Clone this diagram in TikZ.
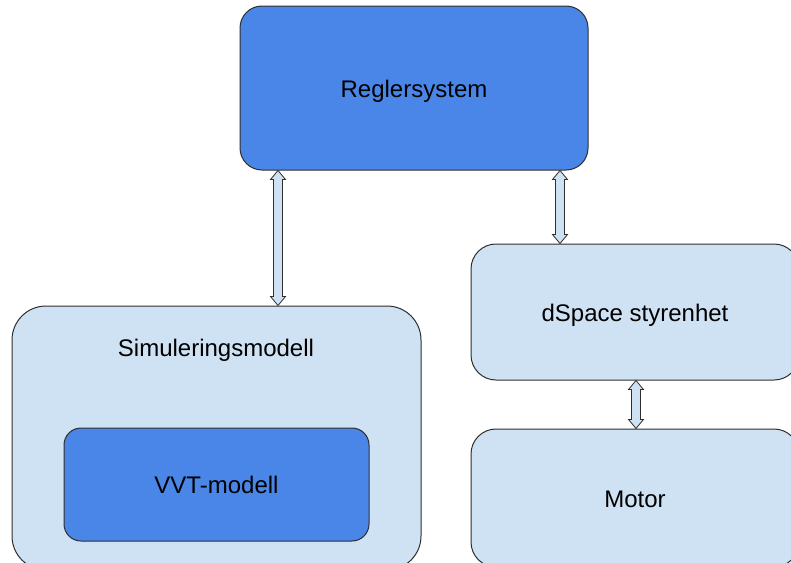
\documentclass[tikz,border=0pt]{standalone}
\usepackage{fontspec}
\setmainfont{Liberation Sans}
\usetikzlibrary{calc}
\definecolor{darkbox}{HTML}{4A86E8}
\definecolor{lightbox}{HTML}{CFE2F3}
\definecolor{edge}{HTML}{2E2E2E}
\tikzset{
  boxbase/.style={draw=edge, line width=1pt, inner sep=0pt, font=\fontsize{24}{28}\selectfont,
    text height=20pt, text depth=2pt},
  darkb/.style={boxbase, fill=darkbox},
  lightb/.style={boxbase, fill=lightbox},
  lbl/.style={inner sep=0pt, font=\fontsize{24}{28}\selectfont, text height=20pt, text depth=2pt},
  dblarrow/.style={draw=edge, line width=0.8pt, fill=lightbox, line join=miter,
    to path={let \p1=(\tikztostart), \p2=(\tikztotarget) in
      (\x1,\y1) -- (\x1+7.5pt,\y1-9pt) -- (\x1+4.5pt,\y1-9pt) -- (\x1+4.5pt,\y2+9pt)
      -- (\x1+7.5pt,\y2+9pt) -- (\x1,\y2) -- (\x1-7.5pt,\y2+9pt) -- (\x1-4.5pt,\y2+9pt)
      -- (\x1-4.5pt,\y1-9pt) -- (\x1-7.5pt,\y1-9pt) -- cycle}}
}
\begin{document}
\begin{tikzpicture}[x=1pt, y=-1pt]
\useasboundingbox[fill=white] (0,0) rectangle (791,562);
\node[darkb, rounded corners=22pt, minimum width=348pt, minimum height=164pt] (reg) at (414,88) {Reglersystem};
\node[lightb, rounded corners=34pt, minimum width=409pt, minimum height=264pt] (sim) at (216.5,438) {};
\node[lbl] (simlabel) at (216,347) {Simuleringsmodell};
\node[darkb, rounded corners=17pt, minimum width=305pt, minimum height=113pt] (vvt) at (216.5,484.5) {VVT-modell};
\node[lightb, rounded corners=25pt, minimum width=328pt, minimum height=136pt] (dsp) at (635,312) {dSpace styrenhet};
\node[lightb, rounded corners=25pt, minimum width=328pt, minimum height=138pt] (mot) at (635,498) {Motor};
\draw[dblarrow] (278,0 |- reg.south) to (278,0 |- sim.north);
\draw[dblarrow] (560,0 |- reg.south) to (560,0 |- dsp.north);
\draw[dblarrow] (636,0 |- dsp.south) to (636,0 |- mot.north);
\end{tikzpicture}
\end{document}
